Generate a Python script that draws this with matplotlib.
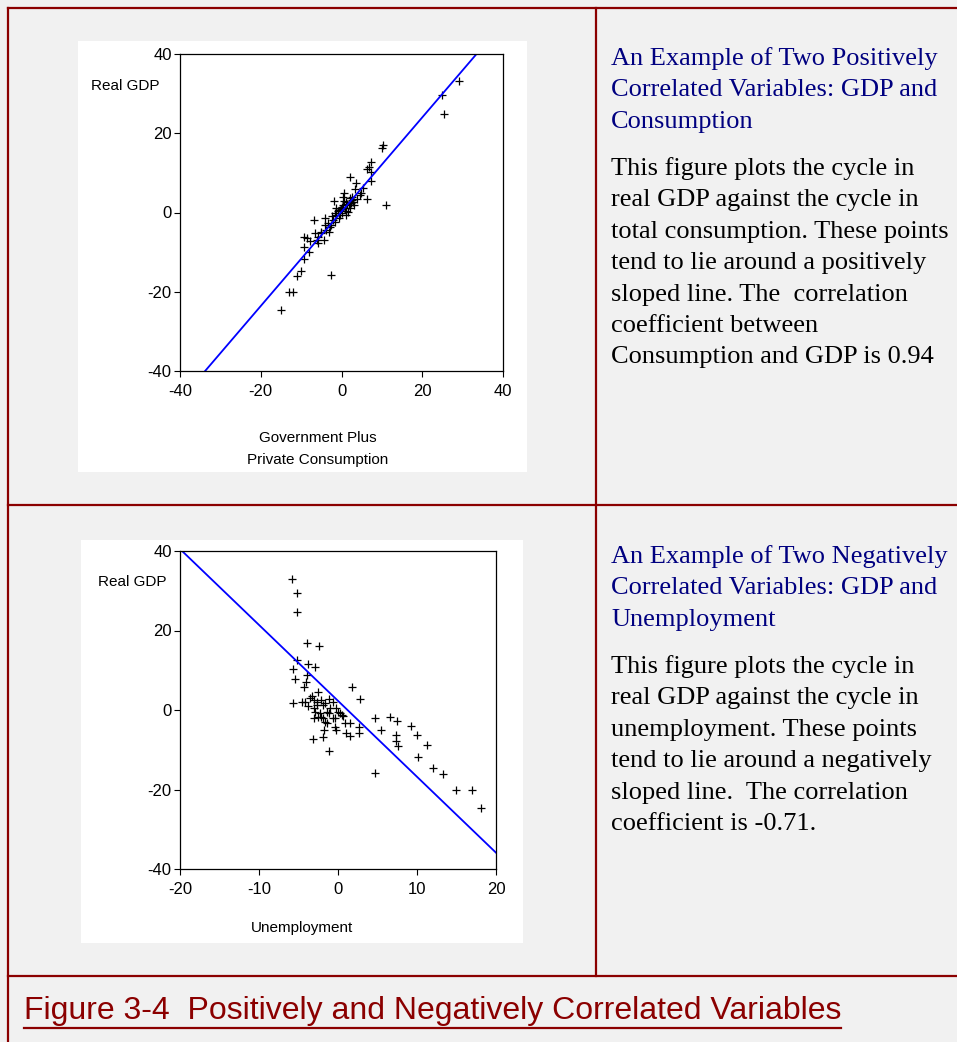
import matplotlib
matplotlib.use("Agg")
import matplotlib.pyplot as plt
import numpy as np

plt.rcParams["axes.unicode_minus"] = False

# top panel: consumption cycle vs real GDP cycle
cons_x = [29.1, 24.8, 25.3, 10.3, 10.1, 7.3, 6.8, 6.2, 7.3, 2.1, 3.7, 3.4, 5.4, 7.3, 4.8,
          6.4, 10.9, 0.7, -1.9, -1.3, 0.4, 1.2, 2.0, 2.5, 1.6, -0.4, 0.1, -0.7, 0.4, 2.9,
          0.8, -1.3, -2.1, -0.4, -1.7, 2.0, 1.0, 3.9, 4.5, -6.9, -4.2, -2.4, -1.5, -3.3,
          -4.2, -6.5, -5.0, -4.3, -5.7, -9.2, -8.6, -7.9, -5.7, -3.1, -2.7, -2.9, -3.8,
          -5.0, -6.1, -9.2, -8.1, -9.4, -10.0, -11.0, -2.6, -13.1, -11.9, -15.0,
          1.4, 0.2, 1.8, -0.9, 2.3, 0.6, 3.0, -0.2, 1.1, 2.7]
cons_gdp = [33.3, 29.7, 24.9, 17.0, 16.2, 12.7, 11.4, 11.0, 10.3, 9.0, 7.4, 5.9, 6.1, 8.0, 4.8,
            3.4, 1.8, 5.0, 2.9, 1.1, 1.9, 2.7, 3.6, 3.2, 0.2, 0.6, -0.2, -1.5, 4.0, 2.7,
            1.1, -0.7, -2.0, -0.7, -2.3, 1.1, -0.7, 3.4, 4.4, -1.9, -1.5, -1.0, -0.2, -2.7,
            -3.1, -5.1, -5.1, -6.9, -6.1, -6.3, -6.5, -7.2, -7.7, -4.8, -3.2, -3.6, -4.4,
            -4.8, -6.9, -8.8, -10.0, -11.8, -14.7, -15.9, -15.8, -20.1, -20.1, -24.7,
            2.2, 1.5, 2.0, 0.3, 2.5, 3.0, 2.0, 0.9, 0.4, 3.8]
cons_fit = (1.19, 0.2)  # slope, intercept

# bottom panel: unemployment cycle vs real GDP cycle
unemp_x = [-5.8, -5.2, -5.2, -3.9, -2.4, -5.2, -3.8, -2.9, -5.7, -5.4, -3.9, -4.1, -4.3,
           1.8, 2.8, -5.7, -4.6, -4.2, -3.8, -3.3, -3.1, -2.5, -2.7, -2.1, -1.6, -1.1,
           -0.6, -0.2, 0.0, 0.5, -2.9, -2.3, -1.9, -3.1, -1.4, -0.4, -0.4, -0.3, -1.8,
           -1.9, -3.2, -1.1, 0.9, 1.5, 1.0, 1.5, 2.6, 2.7, 4.7, 5.4, 4.7, 6.6, 7.5, 7.3,
           7.4, 7.6, 9.3, 10.0, 10.1, 11.3, 12.0, 13.3, 14.9, 17.0, 18.1,
           -3.5, -2.7, -1.9, -1.4, -1.0, 0.3, 0.6, -0.6, -1.6, -2.1, -2.5, -3.0, -1.2]
unemp_gdp = [33.0, 29.4, 24.7, 16.8, 16.0, 12.6, 11.5, 10.8, 10.2, 7.9, 8.7, 7.1, 5.9,
             5.9, 2.7, 1.7, 1.9, 2.1, 0.9, 3.4, 2.5, 4.6, 1.3, 2.5, 1.7, 2.8,
             2.1, 0.4, -0.4, -1.2, -0.4, -0.8, -2.1, -2.1, -3.3, -2.1, -4.2, -5.0, -5.0,
             -6.9, -7.3, -10.2, -3.3, -3.3, -5.8, -6.5, -4.2, -5.7, -1.9, -5.0, -15.9, -1.7, -2.7, -6.3,
             -7.9, -9.1, -4.0, -6.4, -11.7, -8.7, -14.7, -16.0, -20.1, -20.2, -24.7,
             2.9, 2.1, 1.3, -0.4, 0.4, -0.8, -1.4, -1.9, -2.9, -1.7, -1.7, 0.6, -0.8]
unemp_fit = (-1.91, 2.3)

gdp_ticks = [-40, -20, 0, 20, 40]
cons_ticks = [-40, -20, 0, 20, 40]
unemp_ticks = [-20, -10, 0, 10, 20]

title_top = ["An Example of Two Positively", "Correlated Variables: GDP and", "Consumption"]
body_top = ["This figure plots the cycle in", "real GDP against the cycle in",
            "total consumption. These points", "tend to lie around a positively",
            "sloped line. The  correlation", "coefficient between",
            "Consumption and GDP is 0.94"]
title_bot = ["An Example of Two Negatively", "Correlated Variables: GDP and", "Unemployment"]
body_bot = ["This figure plots the cycle in", "real GDP against the cycle in",
            "unemployment. These points", "tend to lie around a negatively",
            "sloped line.  The correlation", "coefficient is -0.71."]
caption = "Figure 3-4  Positively and Negatively Correlated Variables"

W, H = 957, 1042
red = "#8b0000"
navy = "#000080"

fig = plt.figure(figsize=(W / 100, H / 100), dpi=100, facecolor="#f1f1f1")

# page layer in pixel coordinates
bg = fig.add_axes([0, 0, 1, 1], zorder=0)
bg.set_xlim(0, W)
bg.set_ylim(H, 0)
bg.axis("off")

# table frame
bg.plot([8, 8], [8, H + 5], color=red, lw=1.6)
bg.plot([8, W + 5], [8, 8], color=red, lw=1.6)
bg.plot([596, 596], [8, 976], color=red, lw=1.6)
bg.plot([8, W + 5], [505, 505], color=red, lw=1.6)
bg.plot([8, W + 5], [976, 976], color=red, lw=1.6)

# white chart panels
bg.add_patch(plt.Rectangle((78, 41), 449, 431, color="white", lw=0))
bg.add_patch(plt.Rectangle((81, 540), 442, 403, color="white", lw=0))

serif = ["Liberation Serif", "DejaVu Serif"]
sans = ["Liberation Sans", "DejaVu Sans"]


def text_block(lines, y0, color):
    for i, ln in enumerate(lines):
        bg.text(611, y0 + i * 31.4, ln, color=color, fontsize=19, family=serif,
                va="center", ha="left")


text_block(title_top, 59, navy)
text_block(body_top, 169, "black")
text_block(title_bot, 557, navy)
text_block(body_bot, 667, "black")

cap = bg.text(24, 1011, caption, color=red, fontsize=23, family=sans,
              va="center", ha="left")
fig.canvas.draw()
bb = cap.get_window_extent().transformed(bg.transData.inverted())
bg.plot([bb.x0, bb.x1], [1028, 1028], color=red, lw=1.6)


def scatter_panel(rect, xs, ys, fit, xticks, xlabel, xlab_xy, ylab_xy):
    ax = fig.add_axes([rect[0] / W, 1 - rect[3] / H, (rect[2] - rect[0]) / W,
                       (rect[3] - rect[1]) / H], zorder=2)
    ax.set_facecolor("white")
    ax.plot(xs, ys, "+", color="black", ms=5.5, mew=0.9)
    lx = np.array([xticks[0], xticks[-1]])
    ax.plot(lx, fit[0] * lx + fit[1], color="#0000ff", lw=1.3)
    ax.set_xlim(xticks[0], xticks[-1])
    ax.set_ylim(gdp_ticks[0], gdp_ticks[-1])
    ax.set_xticks(xticks)
    ax.set_yticks(gdp_ticks)
    ax.tick_params(direction="out", length=4, width=0.8, labelsize=12, pad=2,
                   top=False, right=False)
    ax.tick_params(axis="x", pad=5)
    for lab in ax.get_xticklabels() + ax.get_yticklabels():
        lab.set_family(sans)
    for s in ax.spines.values():
        s.set_linewidth(0.9)
    bg.text(ylab_xy[0], ylab_xy[1], "Real GDP", fontsize=11, family=sans,
            va="center", ha="left", zorder=3)
    for i, ln in enumerate(xlabel):
        bg.text(xlab_xy[0], xlab_xy[1] + i * 22, ln,
                fontsize=11, family=sans, va="center", ha="center", zorder=3)
    return ax


scatter_panel((180, 54, 503, 371), cons_x, cons_gdp, cons_fit, cons_ticks,
              ["Government Plus", "Private Consumption"], (318, 438), (91, 86))
scatter_panel((180, 551, 496, 869), unemp_x, unemp_gdp, unemp_fit, unemp_ticks,
              ["Unemployment"], (302, 928), (98, 582))

fig.savefig("out.png", dpi=100, facecolor=fig.get_facecolor())
